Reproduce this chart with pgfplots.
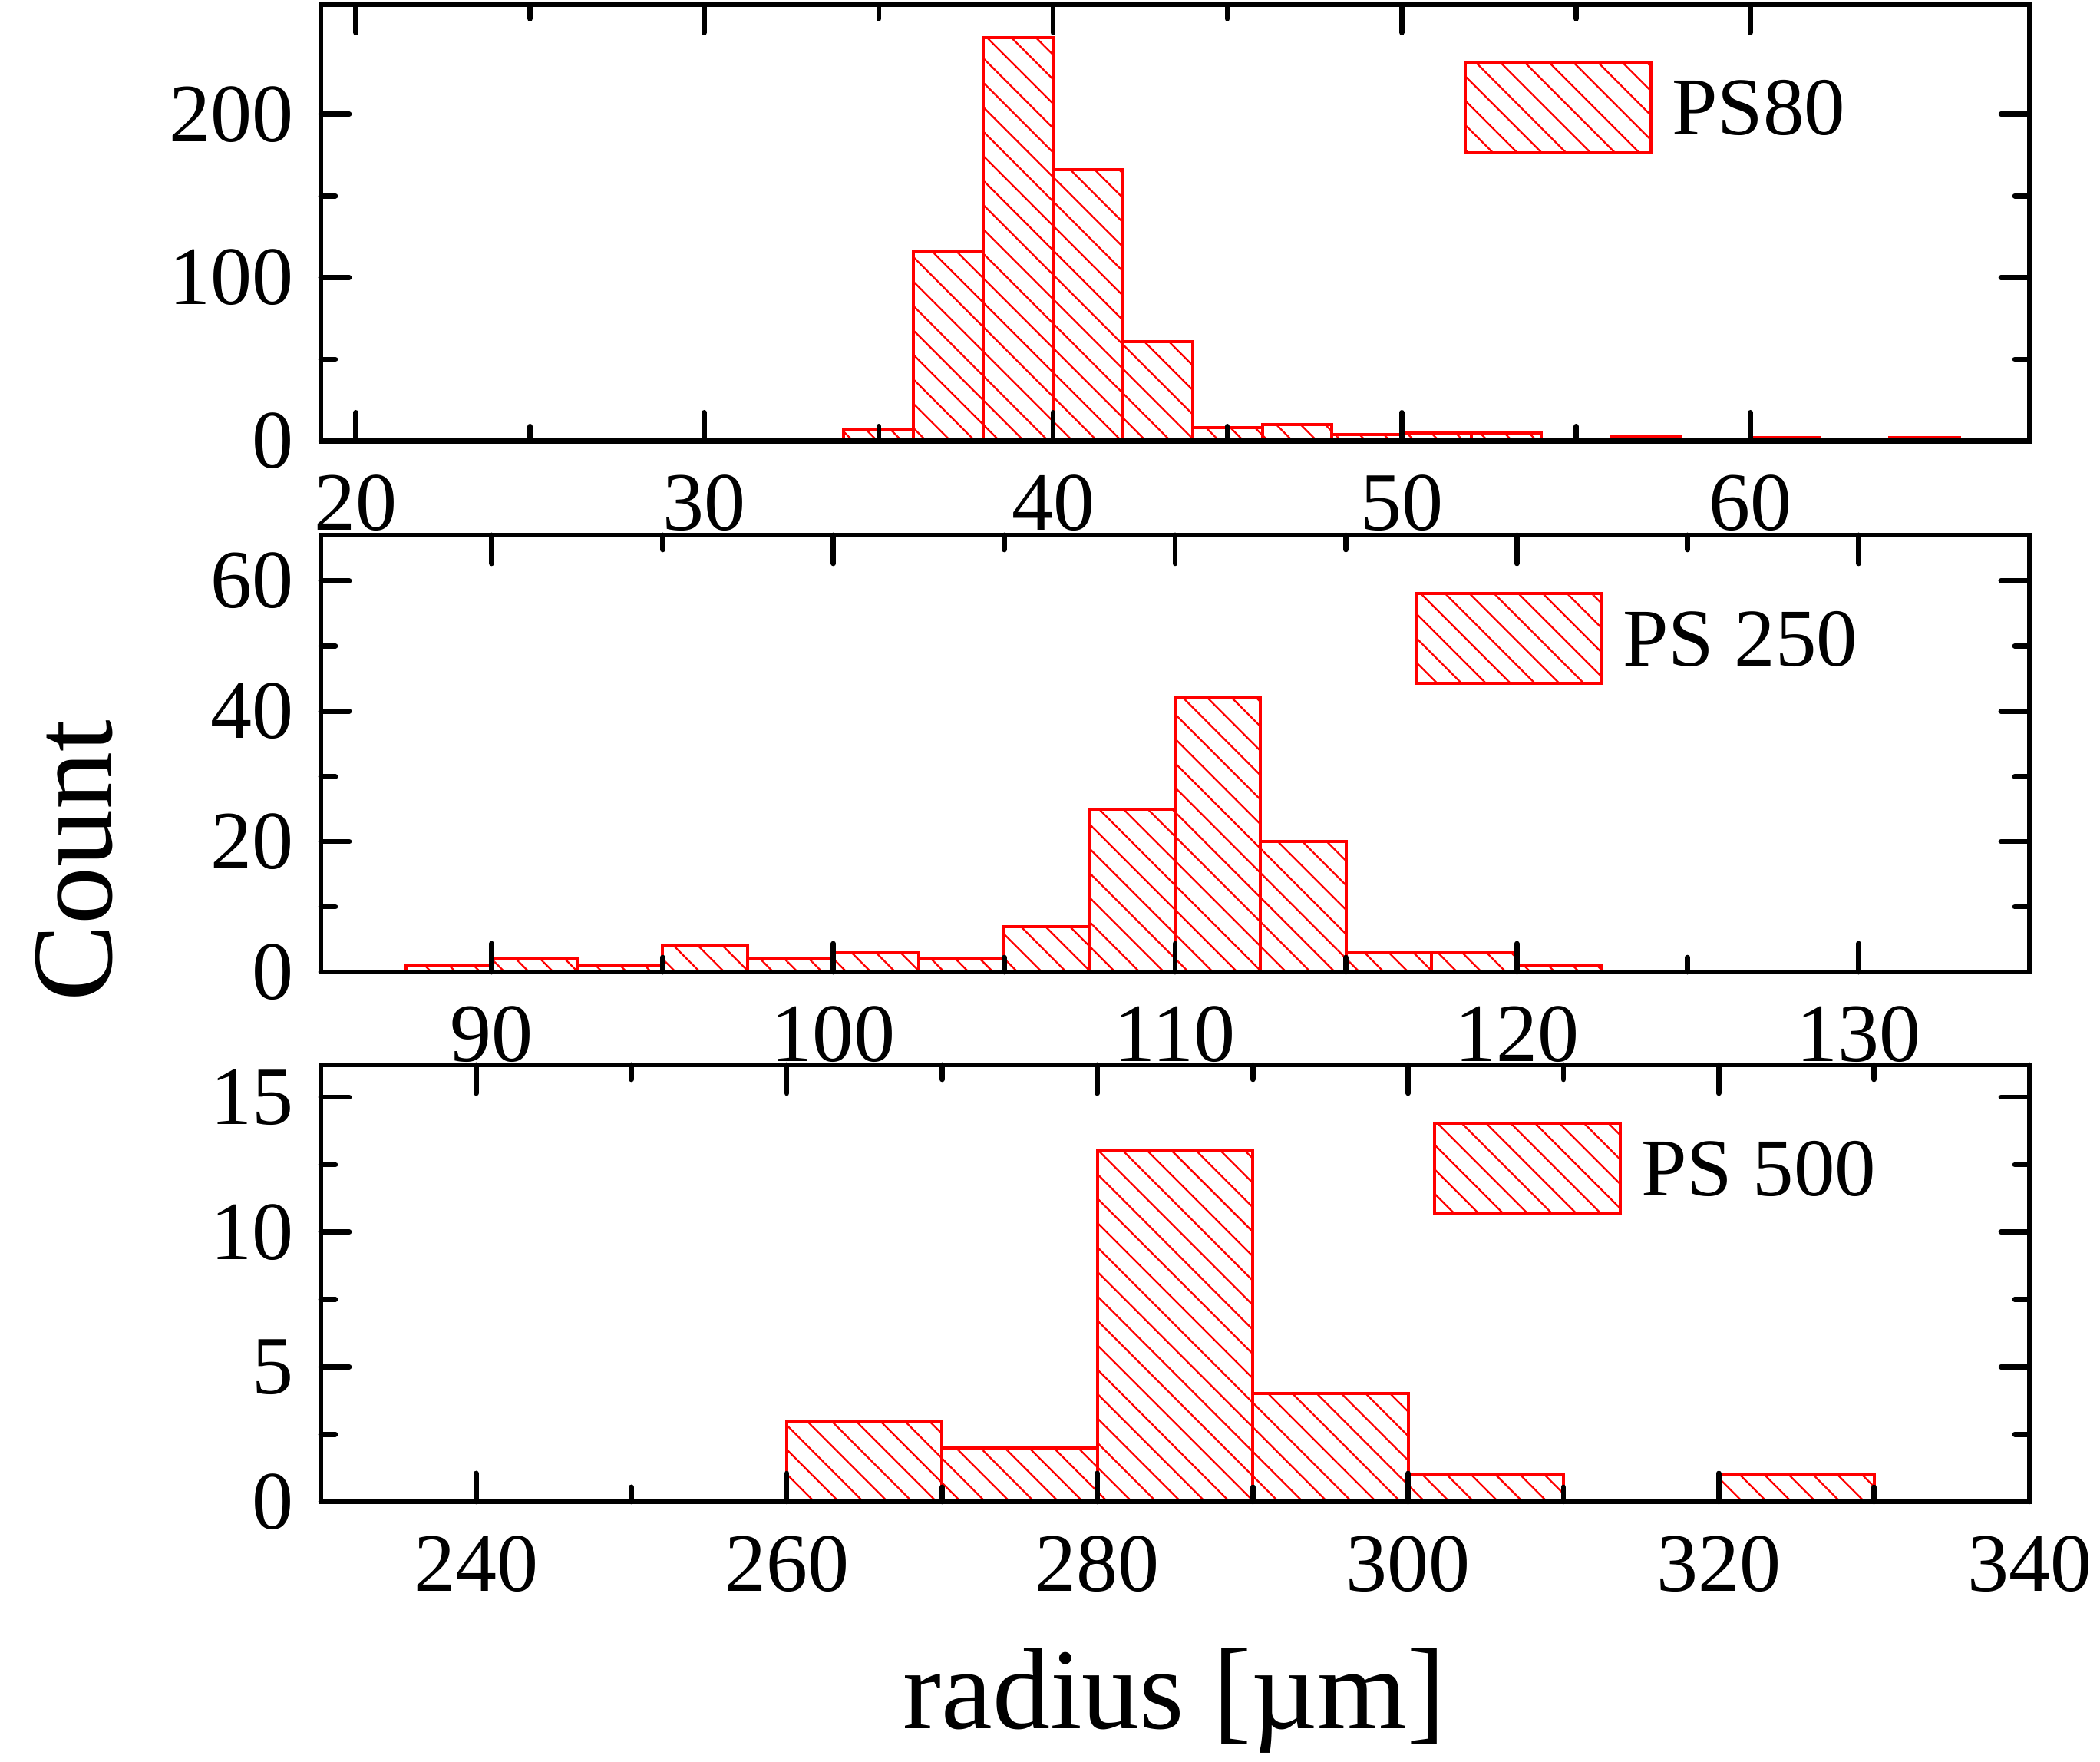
\documentclass[border=0pt]{standalone}
\usepackage{fontspec}
\setmainfont{Liberation Serif}
\usepackage{pgfplots}
\pgfplotsset{compat=1.18}
\usetikzlibrary{patterns.meta}

\pgfplotsset{
  hist/.style={
    scale only axis, width=222.6pt, height=56.9pt,
    axis on top,
    axis line style={line width=0.67pt},
    tick style={black, line width=0.67pt, line cap=round},
    major tick length=3.7pt, minor tick length=1.9pt,
    tick align=inside,
    minor x tick num=1, minor y tick num=1,
    tick label style={font=\fontsize{10.8}{12}\selectfont},
    /pgf/number format/assume math mode=true,
    xticklabel style={yshift=-0.9pt},
    x tick label as interval=false,
    ymin=0,
    legend style={draw=none, fill=none, inner sep=0pt, outer sep=0pt, anchor=west,
      font=\fontsize{10.7}{12}\selectfont,
      nodes={inner sep=0pt, text depth=0pt},
      /tikz/every odd column/.style={column sep=2.5pt}},
  },
  histbar/.style={ybar interval, draw=red, line width=0.4pt,
    pattern={Lines[angle=-45,distance=2.25pt,line width=0.23pt]}, pattern color=red,
    legend image code/.code={\draw[draw=red, line width=0.4pt,
      pattern={Lines[angle=-45,distance=2.25pt,line width=0.23pt]}, pattern color=red]
      (0pt,-5.85pt) rectangle (24.2pt,5.85pt);}},
}

\begin{document}
\begin{tikzpicture}
% ---------- top panel ----------
\begin{axis}[hist, name=top, at={(0pt,0pt)}, anchor=north west,
  xmin=19, xmax=68, ymax=267.4,
  xtick={20,30,40,50,60}, ytick={0,100,200},
  legend style={at={(axis description cs:0.669,0.763)}}]
\addplot[histbar] coordinates {
(34,7) (36,116) (38,247) (40,166) (42,61) (44,8) (46,10) (48,4) (50,5) (52,5)
(54,1) (56,3) (58,1) (60,2) (62,1) (64,2) (66,0)};
\addlegendentry{PS80}
\end{axis}
% ---------- middle panel ----------
\begin{axis}[hist, name=mid, at={(0pt,-69.16pt)}, anchor=north west,
  xmin=85, xmax=135, ymax=67,
  xtick={90,100,110,120,130}, ytick={0,20,40,60},
  legend style={at={(axis description cs:0.6402,0.763)}}]
\addplot[histbar] coordinates {
(87.5,1) (90,2) (92.5,1) (95,4) (97.5,2) (100,3) (102.5,2) (105,7) (107.5,25)
(110,42) (112.5,20) (115,3) (117.5,3) (120,1) (122.5,0)};
\addlegendentry{PS 250}
\end{axis}
% ---------- bottom panel ----------
\begin{axis}[hist, name=bot, at={(0pt,-138.16pt)}, anchor=north west,
  xmin=230, xmax=340, ymax=16.2,
  xtick={240,260,280,300,320,340}, ytick={0,5,10,15},
  legend style={at={(axis description cs:0.651,0.763)}}]
\addplot[histbar] coordinates {
(260,3) (270,2) (280,13) (290,4) (300,1) (310,0) (320,1) (330,0)};
\addlegendentry{PS 500}
\end{axis}
\node[rotate=90, anchor=base, font=\fontsize{15}{18}\selectfont] at (-27.3pt,-111.56pt) {Count};
\node[anchor=base, font=\fontsize{15}{18}\selectfont] at (111.2pt,-224.6pt) {radius [µm]};
\pgfresetboundingbox
\path[use as bounding box] (-41.8pt,0.54pt) rectangle (231.8pt,-228.96pt);
\end{tikzpicture}
\end{document}
